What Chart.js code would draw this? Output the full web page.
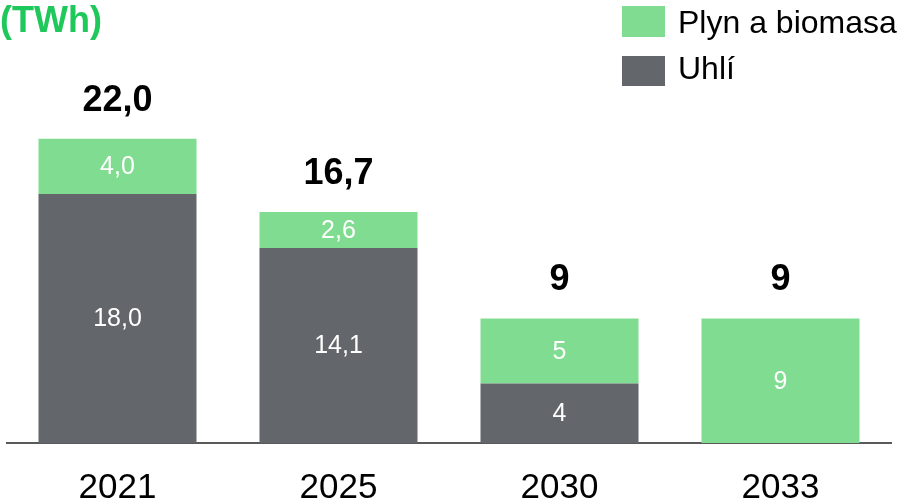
<!DOCTYPE html>
<html>
<head>
<meta charset="utf-8">
<script src="https://cdn.jsdelivr.net/npm/chart.js@4"></script>
<style>
    html, body { margin: 0; padding: 0; background: #fff; }
    #chart { display: block; }
</style>
</head>
<body>
<canvas id="chart" width="899" height="504"></canvas>
<script>
var years = ['2021', '2025', '2030', '2033'];
var uhli = [18.0, 14.1, 4.3, 0];
var plyn = [4.0, 2.6, 4.7, 9];
var uhliLabels = ['18,0', '14,1', '4', ''];
var plynLabels = ['4,0', '2,6', '5', '9'];
var totalLabels = ['22,0', '16,7', '9', '9'];
var unitLabel = '(TWh)';

var green = 'rgb(128, 220, 145)';
var gray = 'rgb(99, 102, 106)';
var titleGreen = 'rgb(30, 200, 90)';
var fontFamily = '"Liberation Sans", Arial, sans-serif';

var labelsPlugin = {
    id: 'labels',
    afterDatasetsDraw: function (chart) {
        var ctx = chart.ctx;
        var segLabels = [uhliLabels, plynLabels];
        ctx.save();
        ctx.textAlign = 'center';
        ctx.textBaseline = 'middle';

        // values inside the segments
        ctx.fillStyle = '#ffffff';
        ctx.font = '25px ' + fontFamily;
        chart.data.datasets.forEach(function (ds, di) {
            chart.getDatasetMeta(di).data.forEach(function (bar, i) {
                if (!ds.data[i]) return;
                ctx.fillText(segLabels[di][i], bar.x, (bar.y + bar.base) / 2 + 1);
            });
        });

        // totals above the bars
        var topMeta = chart.getDatasetMeta(1);
        ctx.fillStyle = '#000000';
        ctx.font = 'bold 36px ' + fontFamily;
        topMeta.data.forEach(function (bar, i) {
            ctx.fillText(totalLabels[i], bar.x, bar.y - 38);
        });

        // unit
        ctx.textAlign = 'left';
        ctx.textBaseline = 'alphabetic';
        ctx.fillStyle = titleGreen;
        ctx.font = 'bold 36px ' + fontFamily;
        ctx.fillText(unitLabel, 0, 32);

        // legend
        ctx.fillStyle = green;
        ctx.fillRect(622, 6, 43, 31);
        ctx.fillStyle = gray;
        ctx.fillRect(622, 56, 43, 30);
        ctx.fillStyle = '#000000';
        ctx.font = '32px ' + fontFamily;
        ctx.textBaseline = 'middle';
        ctx.fillText(chart.data.datasets[1].label, 678, 24);
        ctx.fillText(chart.data.datasets[0].label, 678, 70);
        ctx.restore();
    }
};

var chart = new Chart(document.getElementById('chart'), {
    type: 'bar',
    plugins: [labelsPlugin],
    data: {
        labels: years,
        datasets: [
            {
                label: 'Uhlí',
                data: uhli,
                backgroundColor: gray,
                borderWidth: 0
            },
            {
                label: 'Plyn a biomasa',
                data: plyn,
                backgroundColor: green,
                borderWidth: 0
            }
        ]
    },
    options: {
        responsive: false,
        animation: false,
        layout: { padding: { top: 28, left: 7, right: 8, bottom: 1 } },
        datasets: { bar: { categoryPercentage: 1, barPercentage: 0.715 } },
        plugins: {
            legend: { display: false },
            tooltip: { enabled: false }
        },
        scales: {
            x: {
                stacked: true,
                grid: { display: false, drawTicks: false },
                border: { display: true, color: '#595959', width: 2 },
                ticks: {
                    color: '#000000',
                    padding: 28,
                    font: { family: fontFamily, size: 35, lineHeight: 1.0 }
                },
                afterFit: function (scale) {
                    scale.height = 60;
                }
            },
            y: {
                stacked: true,
                display: false,
                min: 0,
                max: 30
            }
        }
    }
});
</script>
</body>
</html>
